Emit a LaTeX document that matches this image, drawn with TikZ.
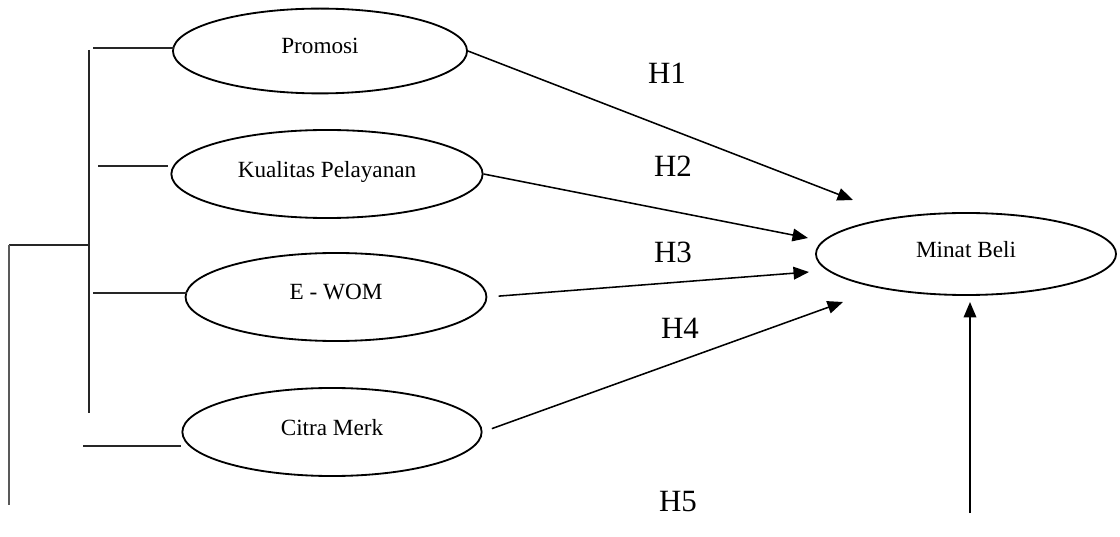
\documentclass[tikz,border=0pt]{standalone}
\usepackage{fontspec}
\setmainfont{Liberation Serif}
\usetikzlibrary{shapes.geometric,arrows.meta}
\tikzset{
  var/.style={draw, ellipse, line width=1.3pt, inner sep=0pt, minimum width=7.5cm, minimum height=2.2cm, text depth=7pt, font=\fontsize{16.5}{18}\selectfont},
  hyp/.style={font=\fontsize{22}{24}\selectfont},
  link/.style={line width=1.1pt, -{Triangle[length=11pt,width=9pt]}},
  stub/.style={line width=0.9pt, black!85}
}
\begin{document}
\begin{tikzpicture}[x=0.025cm,y=-0.025cm]
\useasboundingbox (0,0) rectangle (1120,537);

\node[var, minimum width=7.35cm, minimum height=2.12cm] (promosi) at (320,51) {Promosi};
\node[var, minimum width=7.78cm] (kualitas) at (327,174) {Kualitas Pelayanan};
\node[var, minimum width=7.52cm] (ewom) at (336,297) {E - WOM};
\node[var, minimum width=7.48cm] (citra) at (332,432) {Citra Merk};
\node[var, minimum width=7.5cm, minimum height=2.05cm] (minat) at (966,254) {Minat Beli};

\coordinate (t1) at (853,200);
\coordinate (t2) at (808,238);
\coordinate (t3) at (809,272);
\coordinate (t4) at (843,302);
\coordinate (t5) at (970,302);
\coordinate (b5) at (970,513);

\draw[link] (promosi.east) -- (t1);
\draw[link] (kualitas.east) -- (t2);
\draw[link, shorten <=8pt] (ewom.east) -- (t3);
\draw[link, shorten <=7pt] (citra.east) -- (t4);
\draw[link] (b5) -- (t5);

\node[hyp] (h1) at (667,73) {H1};
\node[hyp] (h2) at (673,166) {H2};
\node[hyp] (h3) at (673,252) {H3};
\node[hyp] (h4) at (680,328) {H4};
\node[hyp] (h5) at (678,502) {H5};

% bracket on the left
\coordinate (top) at (89,50);
\coordinate (bot) at (89,413);
\coordinate (mid) at (89,245);
\coordinate (lft) at (9,245);
\coordinate (lfb) at (9,505);
\draw[stub] (top) -- (bot);
\draw[stub] (93,48) -- (174,48);
\draw[stub] (98,166) -- (168,166);
\draw[stub] (93,293) -- (187,293);
\draw[stub] (83,446) -- (181,446);
\draw[stub] (mid) -- (lft);
\draw[line width=1.5pt, black!65] (lft) -- (lfb);
\end{tikzpicture}
\end{document}
